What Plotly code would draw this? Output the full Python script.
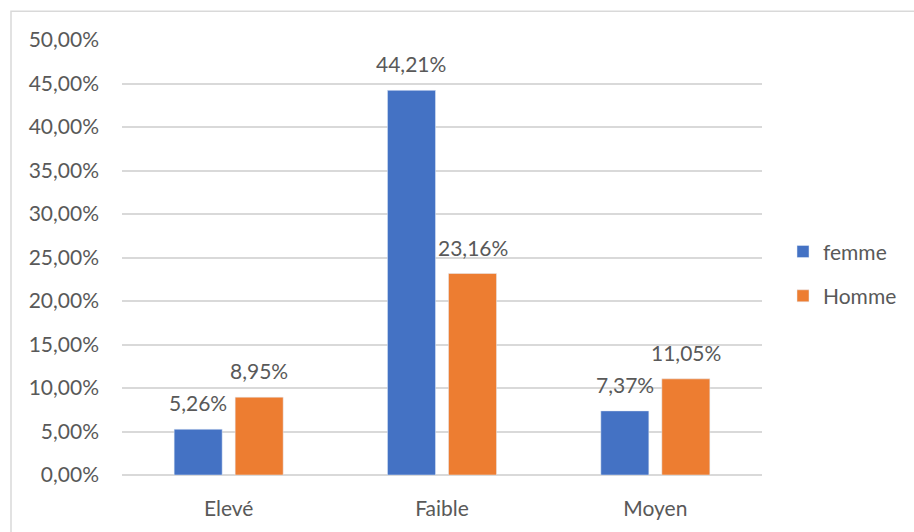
import plotly.graph_objects as go

categories = ["Elevé", "Faible", "Moyen"]
femme = [5.26, 44.21, 7.37]
homme = [8.95, 23.16, 11.05]
y_ticks = [0, 5, 10, 15, 20, 25, 30, 35, 40, 45, 50]

BLUE = "#4472C4"
ORANGE = "#ED7D31"
TEXT = "#595959"
GRID = "#D9D9D9"
FONT = "Lato"


def pct(v):
    return f"{v:.2f}".replace(".", ",") + "%"


W, H = 914, 532
ML, MR, MT, MB = 122, 152, 40, 53
plot_w = W - ML - MR
plot_h = H - MT - MB

BARGAP = 0.428
BARGROUPGAP = 0.213

fig = go.Figure()
fig.add_trace(go.Bar(name="femme", x=categories, y=femme, marker_color=BLUE,
                     legendgroup="f", hoverinfo="skip"))
fig.add_trace(go.Bar(name="Homme", x=categories, y=homme, marker_color=ORANGE,
                     legendgroup="h", hoverinfo="skip"))

# value labels centred over each bar of a group
cat_w = plot_w / len(categories)
slot = cat_w * (1 - BARGAP) / 2
offsets = [-slot / 2, slot / 2]
for series, off in ((femme, offsets[0]), (homme, offsets[1])):
    for c, v in zip(categories, series):
        fig.add_annotation(x=c, y=v, text=pct(v), showarrow=False,
                           xshift=off, yanchor="bottom", yshift=12,
                           font=dict(family=FONT, size=21, color=TEXT))

# thin chart-area frame
fig.add_shape(type="rect", xref="paper", yref="paper",
              x0=(11 - ML) / plot_w, x1=(W + 10 - ML) / plot_w,
              y0=-(H + 10 - (H - MB)) / plot_h, y1=1 + (MT - 11) / plot_h,
              line=dict(color=GRID, width=1.5), fillcolor="rgba(0,0,0,0)",
              layer="below")

fig.update_layout(
    width=W, height=H,
    margin=dict(l=ML, r=MR, t=MT, b=MB, pad=0),
    paper_bgcolor="white", plot_bgcolor="white",
    barmode="group", bargap=BARGAP, bargroupgap=BARGROUPGAP,
    font=dict(family=FONT, size=21, color=TEXT),
    showlegend=True,
    legend=dict(x=(783 - ML) / plot_w, xanchor="left",
                y=(H - MB - 276) / plot_h, yanchor="middle",
                traceorder="grouped", tracegroupgap=14,
                font=dict(family=FONT, size=21, color=TEXT),
                bgcolor="rgba(0,0,0,0)"),
    xaxis=dict(showgrid=False, showline=False, zeroline=False, ticks="",
               ticklabelstandoff=19, tickfont=dict(family=FONT, size=21, color=TEXT)),
    yaxis=dict(range=[0, 50], tickvals=y_ticks, ticktext=[pct(t) for t in y_ticks],
               showgrid=True, gridcolor=GRID, gridwidth=1.5,
               zeroline=True, zerolinecolor=GRID, zerolinewidth=1.5,
               showline=False, ticks="", ticklabelstandoff=22,
               tickfont=dict(family=FONT, size=21, color=TEXT)),
)

fig.write_html("out.html")
